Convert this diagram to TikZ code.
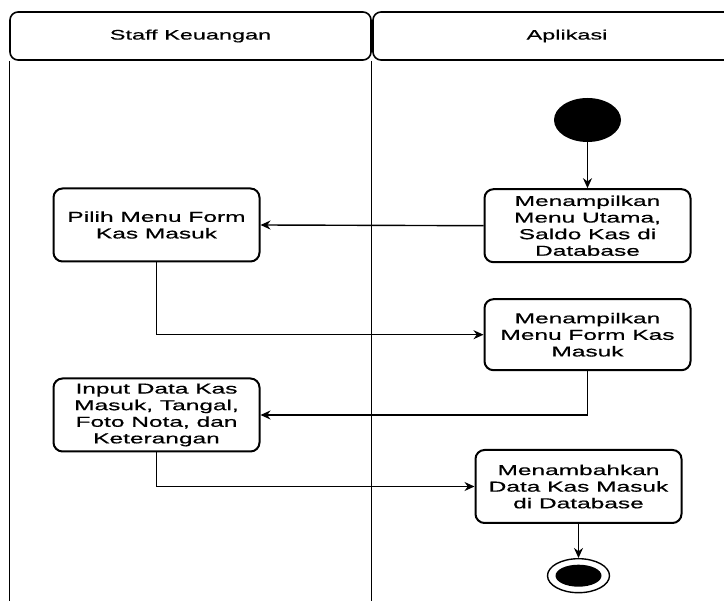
\documentclass[tikz,border=0pt]{standalone}
\usepackage{fontspec}
\setmainfont{Liberation Sans}[FakeStretch=1.7, FakeBold=0.6]
\usepackage{tikz}
\usetikzlibrary{
    arrows.meta,
    shapes.geometric,
    positioning
}
\tikzstyle{action} = [
    rectangle,
    rounded corners=9pt,
    draw=black,
    line width=2pt,
    fill=white,
    minimum width=206pt,
    minimum height=73pt,
    align=center,
    inner sep=2pt,
    font=\fontsize{14.4}{16.6}\selectfont
]
\tikzstyle{lanehead} = [
    rectangle,
    rounded corners=8pt,
    draw=black,
    line width=1.6pt,
    minimum height=48pt,
    font=\fontsize{13.8}{15}\selectfont
]
\tikzstyle{lane} = [
    draw=black,
    line width=1.3pt
]
\tikzstyle{arrow} = [
    -{Stealth[length=10pt,width=9pt]},
    line width=1.4pt,
    draw=black
]

\begin{document}
\begin{tikzpicture}[x=1pt, y=1pt]
        \useasboundingbox (0,0) rectangle (724,-601);
        \coordinate (bottom) at (0,-603);

        % Swimlanes
        \node[lanehead, minimum width=361pt] (staff) at (190.5,-36) {Staff Keuangan};
        \node[lanehead, minimum width=388pt] (app) at (567,-36) {Aplikasi};
        \draw[lane] (staff.south west) -- (staff.south west |- bottom);
        \draw[lane] (staff.south east) -- (staff.south east |- bottom);

        % Start
        \node[ellipse, fill=black, minimum width=67pt, minimum height=44pt, inner sep=0pt] (start) at (587.5,-120) {};

        % Actions
        \node[action, below=46pt of start] (menu) {Menampilkan\\Menu Utama,\\Saldo Kas di\\Database};
        \node[action] (pilih) at (156.5,-225) {Pilih Menu Form\\Kas Masuk};
        \node[action, minimum height=71pt, below=35pt of menu] (form) {Menampilkan\\Menu Form Kas\\Masuk};
        \node[action] (input) at (156.5,-415) {Input Data Kas\\Masuk, Tangal,\\Foto Nota, dan\\Keterangan};
        \node[action] (tambah) at (578.5,-486.5) {Menambahkan\\Data Kas Masuk\\di Database};

        % End
        \node[ellipse, draw=black, line width=1.4pt, fill=white, minimum width=62pt, minimum height=34pt, inner sep=0pt, below=34pt of tambah] (final) {};
        \node[ellipse, fill=black, minimum width=46pt, minimum height=22pt, inner sep=0pt] (finalin) at (final.center) {};

        % Arrows
        \draw[arrow] (start.south) -- (start.south |- menu.north);
        \draw[arrow] (menu.west) -- (pilih.east);
        \draw[arrow] (pilih.south) |- (form.west);
        \draw[arrow] (form.south) |- (input.east);
        \draw[arrow] (input.south) |- (tambah.west);
        \draw[arrow] (tambah.south) -- (final.north);
    \end{tikzpicture}
\end{document}
